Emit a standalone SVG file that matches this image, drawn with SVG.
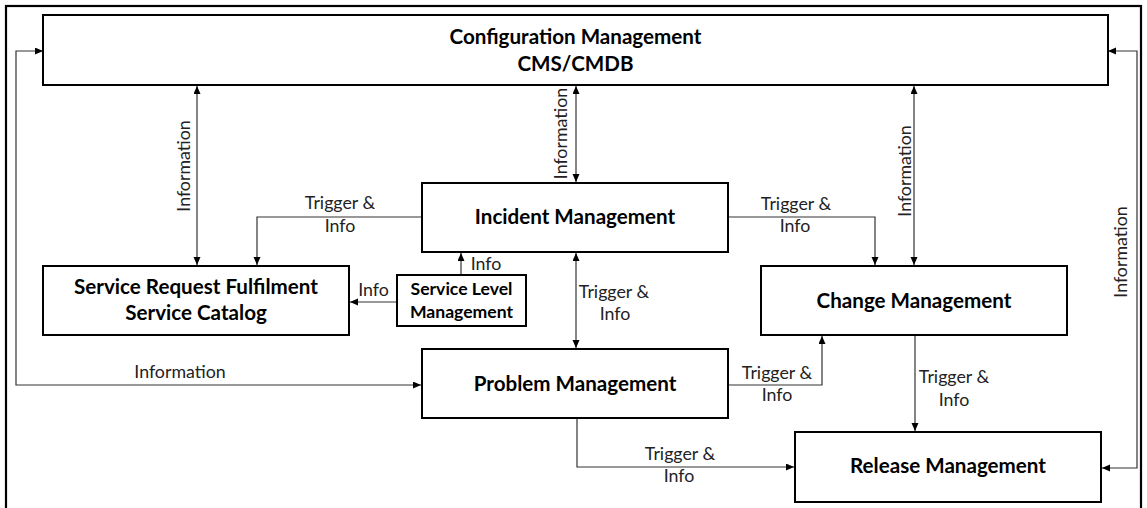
<svg xmlns="http://www.w3.org/2000/svg" width="1147" height="508" viewBox="0 0 1147 508">
<style>
.box{fill:#fff;stroke:#000;stroke-width:2}
.title{font-family:Lato,"Liberation Sans",sans-serif;font-weight:bold;font-size:20.6px;fill:#000;text-anchor:middle}
.small{font-family:Lato,"Liberation Sans",sans-serif;font-weight:bold;font-size:17.6px;fill:#000;text-anchor:middle}
.lbl{font-family:Lato,"Liberation Sans",sans-serif;font-size:17.8px;fill:#222;text-anchor:middle}
.ln{fill:none;stroke:#333;stroke-width:1.2}
.one{marker-end:url(#ah)}
.two{marker-start:url(#ah);marker-end:url(#ah)}
</style>
<defs>
<marker id="ah" markerUnits="userSpaceOnUse" markerWidth="9" markerHeight="8" refX="8" refY="3.5" orient="auto-start-reverse">
<path d="M0,0 L8,3.5 L0,7 z" fill="#000"/>
</marker>
</defs>
<rect x="0" y="0" width="1147" height="508" fill="#fff"/>
<rect x="6" y="6" width="1135" height="520" fill="none" stroke="#000" stroke-width="2.2"/>

<g id="connectors">
<path class="ln two" d="M197,86 V265"/>
<path class="ln two" d="M576,86 V182"/>
<path class="ln two" d="M914,86 V265"/>
<path class="ln two" d="M43,51 H16 V385 H421"/>
<path class="ln two" d="M1108,51 H1137 V468 H1102"/>
<path class="ln one" d="M422,217 H257 V265"/>
<path class="ln one" d="M728,217 H875 V265"/>
<path class="ln two" d="M576,253 V348"/>
<path class="ln one" d="M461,275 V253"/>
<path class="ln one" d="M397,302 H350"/>
<path class="ln one" d="M728,385 H822 V336"/>
<path class="ln one" d="M915,335 V431"/>
<path class="ln one" d="M577,418 V467 H794"/>
<g id="connector-labels">
<text class="lbl" transform="translate(190,166) rotate(-90)">Information</text>
<text class="lbl" transform="translate(567,133.5) rotate(-90)">Information</text>
<text class="lbl" transform="translate(911,171) rotate(-90)">Information</text>
<text class="lbl" transform="translate(1127,252) rotate(-90)">Information</text>
<text class="lbl" x="180" y="378">Information</text>
<text class="lbl" x="340" y="209">Trigger &amp;</text>
<text class="lbl" x="340" y="232">Info</text>
<text class="lbl" x="796" y="210">Trigger &amp;</text>
<text class="lbl" x="795" y="232">Info</text>
<text class="lbl" x="614" y="298">Trigger &amp;</text>
<text class="lbl" x="615" y="320">Info</text>
<text class="lbl" x="486" y="270">Info</text>
<text class="lbl" x="373.5" y="296">Info</text>
<text class="lbl" x="777" y="379">Trigger &amp;</text>
<text class="lbl" x="777" y="401">Info</text>
<text class="lbl" x="954" y="383">Trigger &amp;</text>
<text class="lbl" x="954" y="406">Info</text>
<text class="lbl" x="680" y="460">Trigger &amp;</text>
<text class="lbl" x="679" y="482">Info</text>
</g>
</g>

<g id="config">
<rect class="box" x="43" y="15" width="1065" height="70"/>
<text class="title" x="575.5" y="44">Configuration Management</text>
<text class="title" x="575.5" y="71">CMS/CMDB</text>
</g>
<g id="incident">
<rect class="box" x="422" y="183" width="306" height="69"/>
<text class="title" x="575" y="224">Incident Management</text>
</g>
<g id="service-request">
<rect class="box" x="43" y="266" width="306" height="69"/>
<text class="title" x="196" y="294">Service Request Fulfilment</text>
<text class="title" x="196" y="320">Service Catalog</text>
</g>
<g id="slm">
<rect class="box" x="397" y="275" width="129" height="51"/>
<text class="small" x="461.5" y="295">Service Level</text>
<text class="small" x="461.5" y="318">Management</text>
</g>
<g id="change">
<rect class="box" x="761" y="266" width="306" height="69"/>
<text class="title" x="914" y="308">Change Management</text>
</g>
<g id="problem">
<rect class="box" x="422" y="349" width="306" height="69"/>
<text class="title" x="575" y="391">Problem Management</text>
</g>
<g id="release">
<rect class="box" x="795" y="432" width="306" height="70"/>
<text class="title" x="948" y="473">Release Management</text>
</g>
</svg>
